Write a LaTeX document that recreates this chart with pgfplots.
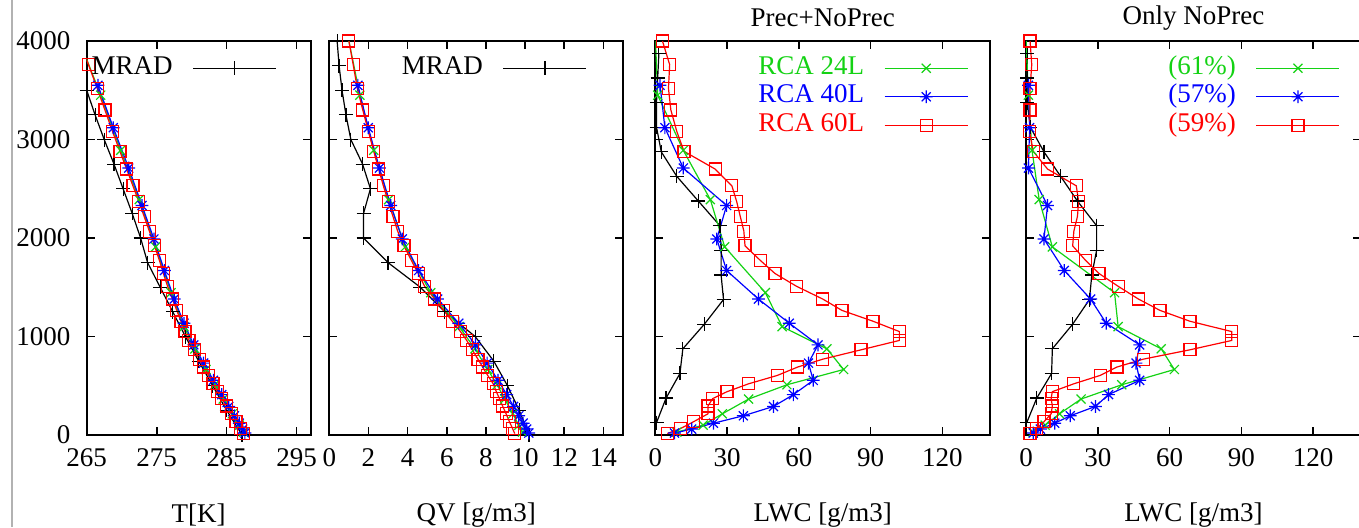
\documentclass[border=0pt]{standalone}
\usepackage{fontspec}
\setmainfont{Liberation Serif}
\usepackage{pgfplots}
\usepackage{pgfplotstable}
\pgfplotsset{compat=1.18}

\definecolor{gpgreen}{RGB}{20,210,20}
\definecolor{gpblue}{RGB}{0,0,255}
\definecolor{gpred}{RGB}{255,0,0}
\newcommand{\fs}{\fontsize{13.5}{16}\selectfont}

\pgfdeclareplotmark{gpstar}{%
  \pgfpathmoveto{\pgfqpoint{-\pgfplotmarksize}{0pt}}\pgfpathlineto{\pgfqpoint{\pgfplotmarksize}{0pt}}%
  \pgfpathmoveto{\pgfqpoint{0pt}{-\pgfplotmarksize}}\pgfpathlineto{\pgfqpoint{0pt}{\pgfplotmarksize}}%
  \pgfpathmoveto{\pgfqpoint{-.707\pgfplotmarksize}{-.707\pgfplotmarksize}}\pgfpathlineto{\pgfqpoint{.707\pgfplotmarksize}{.707\pgfplotmarksize}}%
  \pgfpathmoveto{\pgfqpoint{-.707\pgfplotmarksize}{.707\pgfplotmarksize}}\pgfpathlineto{\pgfqpoint{.707\pgfplotmarksize}{-.707\pgfplotmarksize}}%
  \pgfusepathqstroke}

% MRAD profiles (T, QV), 250 m levels
\pgfplotstableread{
z T QV
0 287.2 10.2
250 285.0 9.7
500 283.0 9.1
750 281.0 8.4
1000 279.1 7.45
1250 277.3 5.9
1500 275.5 4.65
1750 273.7 3.0
2000 272.7 1.75
2250 271.5 1.75
2500 270.2 2.1
2750 268.9 1.7
3000 267.5 1.1
3250 266.2 0.85
3500 265.0 0.65
3750 263.8 0.5
4000 262.6 0.4
}\mradP

% MRAD LWC (A: Prec+NoPrec, B: Only NoPrec)
\pgfplotstableread{
z A B
125 0.5 0.3
375 4.5 4.5
625 10.3 10.7
875 11.5 11
1125 20.5 19.5
1375 28.5 26.5
1625 27.5 27.5
1875 27.5 29.5
2125 27 29.5
2375 18 21.5
2625 9 14.5
2875 2.5 7.5
3125 0.5 1.8
3375 0.5 0.5
3625 1 0.5
3875 1.5 0.5
}\mradL

\pgfplotstableread{
z T QV A B
30 287.4 9.87 9 3
100 286.8 9.68 20 8
215 285.8 9.37 28 14
365 284.5 8.96 39 23
510 283.3 8.57 55 40
665 282.05 8.09 78.7 62
875 280.45 7.44 71.7 56.5
1100 278.9 6.63 53 38.5
1445 277.05 5.18 46 37
1910 274.85 3.88 29 11
2390 272.5 3.03 23 5.5
2890 269.85 2.27 11.7 2.5
3450 267.0 1.56 1 1
4050 263.7 0.95 0 0
}\rcaA

\pgfplotstableread{
z T QV A B
20 287.6 10.19 8 3
60 287.3 10.08 15.2 6
120 286.8 9.9 24.3 12
195 286.1 9.68 36.8 18.5
290 285.3 9.41 49.4 29
410 284.3 9.06 57.7 34.5
555 283.1 8.62 66 47.5
730 281.7 8.06 64 46
915 280.3 7.47 68 47.5
1135 278.9 6.61 56 33.5
1380 277.5 5.53 43.1 27
1670 276.1 4.56 29.8 16
1990 274.6 3.73 25.7 7.5
2330 272.9 3.14 29.8 9
2710 271.0 2.56 11.7 1
3120 268.8 1.99 4 1.5
3550 266.6 1.46 2 1
}\rcaB

\pgfplotstableread{
z T QV A B
15 287.37 9.47 5 1.7
65 286.94 9.36 10.5 4.5
135 286.34 9.2 16 7.5
215 285.65 9.03 22 10.5
295 284.96 8.85 22 11
370 284.3 8.69 24 10.5
440 283.7 8.53 30 11
520 283.04 8.37 39 20
605 282.4 8.09 51 31
690 281.7 7.83 59.5 38
770 281.1 7.59 70 49
865 280.35 7.3 86 68.5
960 279.6 7.02 102 86
1050 279.03 6.7 102 86
1155 278.46 6.28 91 68.5
1265 277.87 5.84 78 56
1380 277.25 5.38 70 47
1510 276.55 4.87 59 38.5
1640 275.96 4.54 50 30.5
1770 275.4 4.2 44 25
1920 274.7 3.81 37.5 19.5
2070 273.95 3.49 37 20
2220 273.2 3.25 35.5 21.5
2370 272.45 3.01 34 22
2530 271.6 2.76 32 21
2700 270.7 2.52 25 9
2880 269.75 2.27 12 3
3080 268.7 2.0 9 1.5
3300 267.6 1.71 6.5 1.7
3520 266.5 1.43 5.5 1.7
3760 265.25 1.22 6 2.4
4000 264.0 1.0 3 1.7
}\rcaC

\pgfplotsset{
  panel/.style={
    scale only axis, anchor=south west, height=197pt,
    ymin=0, ymax=4000, ytick={0,1000,2000,3000,4000}, yticklabels={},
    tick align=inside, major tick length=4pt,
    tick style={black, line width=0.8pt},
    axis line style={black, line width=0.9pt},
    tick label style={font=\fs},
    xticklabel style={anchor=center, yshift=-11.5pt, inner sep=0pt},
    yticklabel style={anchor=east, xshift=-8pt, inner sep=0pt},
    every axis x label/.style={at={(axis description cs:0.5,0)}, anchor=center, yshift=-40pt, font=\fs},
    every axis title/.style={at={(axis description cs:0.5,1)}, anchor=center, yshift=11.5pt, font=\fs},
    legend plot pos=right, legend cell align=right,
    legend image code/.code={\draw[mark repeat=2,mark phase=2,#1] plot coordinates {(0pt,0pt) (20.75pt,0pt) (41.5pt,0pt)};},
    legend style={draw=none, fill=none, inner sep=0pt, outer sep=0pt, font=\fs,
      anchor=north east, at={(axis description cs:1,1)}, column sep=10pt, row sep=0pt,
      nodes={inner sep=0pt, text height=10pt, text depth=4.25pt}},
  },
  mrad/.style={black, line width=0.6pt, mark=+, mark size=3.5pt},
  sA/.style={gpgreen, line width=0.6pt, mark=x, mark size=3.2pt},
  sB/.style={gpblue, line width=0.6pt, mark=gpstar, mark size=3.2pt},
  sC/.style={gpred, line width=0.6pt, mark=square, mark size=3pt},
  redkey/.style={legend image code/.code={%
    \draw[gpred, line width=0.6pt] (0pt,0pt) -- (41.5pt,0pt);
    \draw[gpred, line width=0.6pt] (17.75pt,-3pt) rectangle (23.75pt,3pt);}},
}

\begin{document}
\begin{tikzpicture}
\path[use as bounding box] (0,0) rectangle (679.5pt,263.5pt);
\draw[gray!60, line width=0.8pt] (6pt,0) -- (6pt,263.5pt);

% Panel 1: temperature
\begin{axis}[panel, at={(43.35pt,46pt)}, width=112pt,
  xmin=265, xmax=297, xtick={265,275,285,295}, xticklabels={265,275,285,295},
  yticklabels={0,1000,2000,3000,4000},
  xlabel={T[K]},
  legend style={xshift=-16.9pt, yshift=-6.5pt}]
\addplot[mrad] table[x=T,y=z]{\mradP};
\addlegendentry{MRAD}
\addplot[sA, forget plot] table[x=T,y=z]{\rcaA};
\addplot[sB, forget plot] table[x=T,y=z]{\rcaB};
\addplot[sC, forget plot] table[x=T,y=z]{\rcaC};
\end{axis}

% Panel 2: QV
\begin{axis}[panel, at={(164.65pt,46pt)}, width=146.85pt,
  xmin=0, xmax=15, xtick={0,2,4,6,8,10,12,14}, xticklabels={0,2,4,6,8,10,12,14},
  xlabel={QV [g/m3]},
  legend style={xshift=-18pt, yshift=-6.5pt}]
\addplot[mrad] table[x=QV,y=z]{\mradP};
\addlegendentry{MRAD}
\addplot[sA, forget plot] table[x=QV,y=z]{\rcaA};
\addplot[sB, forget plot] table[x=QV,y=z]{\rcaB};
\addplot[sC, forget plot] table[x=QV,y=z]{\rcaC};
\end{axis}

% Panel 3: LWC Prec+NoPrec
\begin{axis}[panel, at={(327.65pt,46pt)}, width=167.5pt,
  xmin=0, xmax=140, xtick={0,30,60,90,120}, xticklabels={0,30,60,90,120},
  xlabel={LWC [g/m3]}, title={Prec+NoPrec},
  legend style={xshift=-11pt, yshift=-6.5pt}]
\addplot[mrad, forget plot] table[x=A,y=z]{\mradL};
\addplot[sA] table[x=A,y=z]{\rcaA};
\addlegendentry[text=gpgreen]{RCA 24L}
\addplot[sB] table[x=A,y=z]{\rcaB};
\addlegendentry[text=gpblue]{RCA 40L}
\addplot[sC] table[x=A,y=z]{\rcaC};
\addlegendentry[text=gpred]{RCA 60L}
\end{axis}

% Panel 4: LWC Only NoPrec
\begin{axis}[panel, at={(513pt,46pt)}, width=167.5pt,
  xmin=0, xmax=140, xtick={0,30,60,90,120}, xticklabels={0,30,60,90,120},
  xlabel={LWC [g/m3]}, title={Only NoPrec},
  legend style={xshift=-10.5pt, yshift=-6.5pt}]
\addplot[mrad, forget plot] table[x=B,y=z]{\mradL};
\addplot[sA] table[x=B,y=z]{\rcaA};
\addlegendentry[text=gpgreen]{(61\%)}
\addplot[sB] table[x=B,y=z]{\rcaB};
\addlegendentry[text=gpblue]{(57\%)}
\addplot[sC, redkey] table[x=B,y=z]{\rcaC};
\addlegendentry[text=gpred]{(59\%)}
\end{axis}
\end{tikzpicture}
\end{document}
